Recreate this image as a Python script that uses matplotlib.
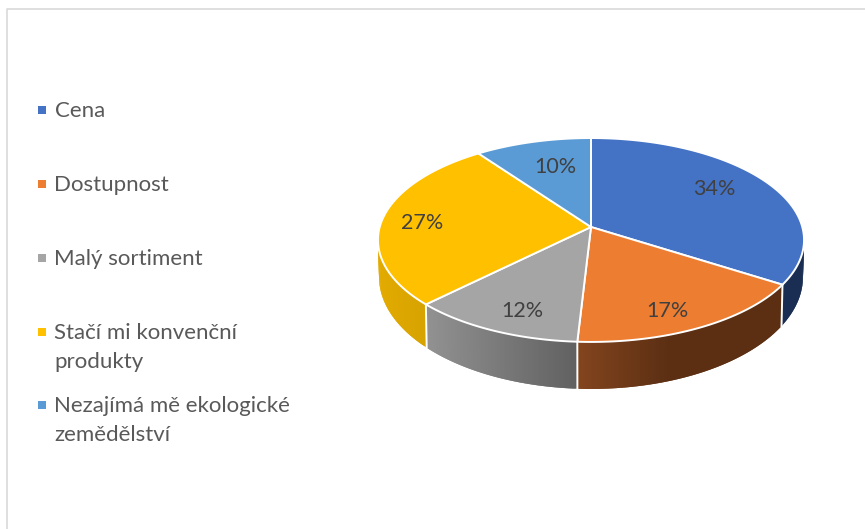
import numpy as np
import matplotlib
matplotlib.use("Agg")
import matplotlib.pyplot as plt
from matplotlib.colors import to_rgb

plt.rcParams['font.family'] = ['Lato', 'DejaVu Sans']

# hodnoty odhadnute z obrazku, popisky jsou zaokrouhlene
kategorie = ["Cena", "Dostupnost", "Malý sortiment", "Stačí mi konvenční\nprodukty", "Nezajímá mě ekologické\nzemědělství"]
hodnoty = [34.0, 16.9, 11.7, 27.4, 10.0]

barvy = ["#4472c4", "#ed7d31", "#a5a5a5", "#ffc000", "#5b9bd5"]
bok_vlevo = ["#1a2d52", "#84451e", "#929292", "#e3ab00", "#3a6a96"]
bok_vpravo = ["#1a2d52", "#5c2f13", "#616161", "#c99a00", "#3a6a96"]

cx, cy = 591, 227
R, H, k = 211.3, 100.3, 0.1274
legenda_y = [110, 184, 258, 332, 405]
popisky_xy = [(714, 189), (667, 311), (522, 311), (422, 223), (555, 167)]


def horni(theta):
    # perspektiva: zadni strana je mensi nez predni
    u, v = np.sin(theta), np.cos(theta)
    w = 1 / (1 + k * v)
    return cx + R * u * w, cy - H * v * w


def dolni(theta):
    # spodni elipsa je v perspektive vyssi nez horni
    x, y = horni(theta)
    return cx + (x - cx) * 0.995, 277 + (y - 240) * 1.098


fig = plt.figure(figsize=(8.65, 5.29), dpi=100)
ax = fig.add_axes([0, 0, 1, 1])
ax.set_xlim(0, 865)
ax.set_ylim(529, 0)
ax.axis("off")

ax.plot([6.5, 6.5, 865], [529, 8.5, 8.5], color="#d9d9d9", lw=1.2)

hranice = np.radians(np.cumsum([0] + hodnoty) / np.sum(hodnoty) * 360)

# boky, kazdy dil prekryva dalsi aby nebyly videt svisle prouzky
for i in range(len(hodnoty)):
    t = np.linspace(hranice[i], hranice[i + 1], 90)
    xs = horni(t)[0]
    for j in range(len(t) - 1):
        a = t[j:j + 3]
        xt, yt = horni(a)
        xb, yb = dolni(a)
        f = (xt[0] - xs.min()) / (xs.max() - xs.min())
        if i == 1:
            f = min(f / 0.45, 1)  # oranzova je tmava uz pred pulkou
        c = (1 - f) * np.array(to_rgb(bok_vlevo[i])) + f * np.array(to_rgb(bok_vpravo[i]))
        ax.fill(np.r_[xt, xb[::-1]], np.r_[yt, yb[::-1]], color=tuple(c), lw=0, zorder=2)

# bile cary mezi boky
for h in hranice[1:4]:
    xt, yt = horni(h)
    xb, yb = dolni(h)
    ax.plot([xt, xb], [yt, yb], color="white", lw=1.4, zorder=3)

# horni plocha
for i in range(len(hodnoty)):
    t = np.linspace(hranice[i], hranice[i + 1], 120)
    x, y = horni(t)
    ax.fill(np.r_[cx, x], np.r_[cy, y], facecolor=barvy[i], edgecolor="white", lw=1.4, joinstyle="round", zorder=4)

for i in range(len(hodnoty)):
    ax.text(popisky_xy[i][0], popisky_xy[i][1], f"{hodnoty[i]:.0f}%", fontsize=15.5, color="#404040",
            ha="center", va="center", zorder=5)

# legenda
for i in range(len(kategorie)):
    ax.add_patch(plt.Rectangle((38.3, legenda_y[i] - 3.7), 7.4, 7.4, color=barvy[i], lw=0))
    radky = kategorie[i].split("\n")
    for r in range(len(radky)):
        ax.text(54.5, legenda_y[i] + 7 + 29 * r, radky[r], fontsize=16, color="#595959", ha="left", va="baseline")

fig.savefig("out.png", dpi=100)
